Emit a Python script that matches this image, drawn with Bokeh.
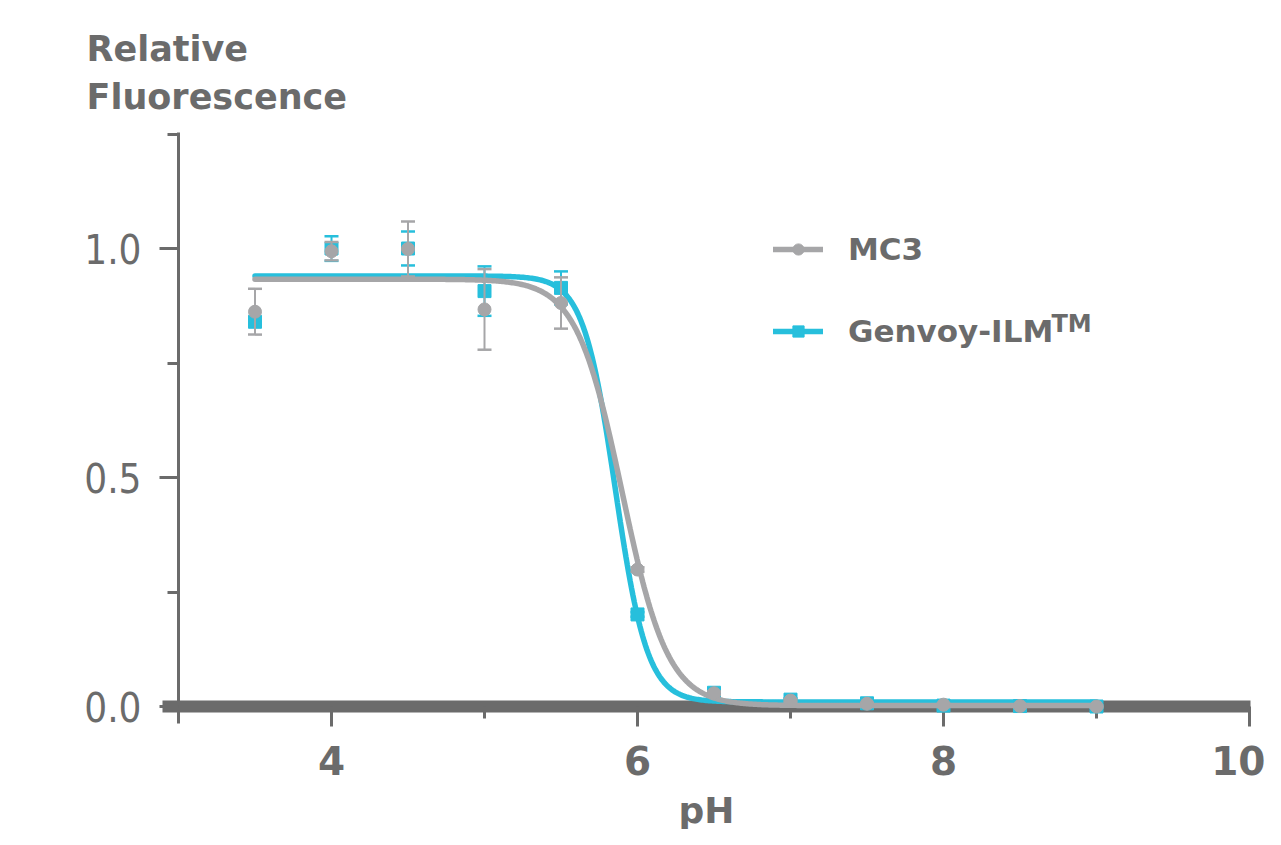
import numpy as np
from bokeh.plotting import figure
from bokeh.models import (Range1d, FixedTicker, Legend, LegendItem, Label,
                          ColumnDataSource, PrintfTickFormatter)
from bokeh.embed import file_html
from bokeh.resources import INLINE

# ---------------- data ----------------
ph = [3.5, 4.0, 4.5, 5.0, 5.5, 6.0, 6.5, 7.0, 7.5, 8.0, 8.5, 9.0]
mc3 = [0.862, 0.994, 0.999, 0.867, 0.881, 0.299, 0.029, 0.013, 0.006, 0.004, 0.001, 0.000]
mc3_err = [0.050, 0.020, 0.060, 0.088, 0.056, 0.005, 0.004, 0.003, 0.002, 0.002, 0.002, 0.002]
genvoy = [0.840, 1.000, 1.000, 0.907, 0.914, 0.201, 0.030, 0.015, 0.007, 0.002, 0.001, 0.000]
genvoy_err = [0.010, 0.027, 0.037, 0.054, 0.036, 0.005, 0.004, 0.003, 0.002, 0.002, 0.002, 0.002]

# fitted sigmoid curves: [top, bottom, pH50, slope]
mc3_fit = [0.933, 0.002, 5.90, 0.150]
genvoy_fit = [0.940, 0.010, 5.855, 0.105]
fit_span = [3.5, 9.0]

series_names = ["MC3", "Genvoy-ILM"]
x_ticks = [4, 6, 8, 10]
x_minor = [5, 7, 9]
x_axis_bounds = [2.8954, 10.0065]
y_ticks = [0.0, 0.5, 1.0]
y_minor = [0.25, 0.75, 1.25]
y_axis_bounds = [-0.0371, 1.2533]

GRAY = "#a6a6a8"
CYAN = "#27bfdc"
TEXT = "#6b6b6b"
AXIS = "#6b6b6b"

W, H = 1265, 829


def sigmoid(x, top, bottom, ph50, slope):
    return bottom + (top - bottom) / (1.0 + np.exp((x - ph50) / slope))


# frame covers the whole canvas; axes are placed with fixed_location + bounds
p = figure(width=W, height=H,
           x_range=Range1d(3 - 178 / 153, 3 + (W - 178) / 153),
           y_range=Range1d(-(H - 706) / 458, 706 / 458),
           output_backend="svg", toolbar_location=None,
           min_border=0, min_border_left=0, min_border_right=0,
           min_border_top=0, min_border_bottom=0)
p.title.visible = False
p.outline_line_color = None
p.xgrid.visible = False
p.ygrid.visible = False
p.background_fill_color = "white"
p.border_fill_color = "white"

# ---------------- axes ----------------
xa = p.xaxis[0]
xa.fixed_location = 0
xa.bounds = tuple(x_axis_bounds)
xa.level = "underlay"
xa.ticker = FixedTicker(ticks=x_ticks, minor_ticks=x_minor)
xa.axis_line_width = 12
xa.axis_line_color = AXIS
xa.major_tick_out = 20
xa.major_tick_in = 0
xa.major_tick_line_width = 3
xa.major_tick_line_color = AXIS
xa.minor_tick_out = 12
xa.minor_tick_in = 0
xa.minor_tick_line_width = 3
xa.minor_tick_line_color = AXIS
xa.major_label_text_font = "DejaVu Sans"
xa.major_label_text_font_style = "bold"
xa.major_label_text_font_size = "39px"
xa.major_label_text_color = TEXT
xa.major_label_standoff = 19
xa.axis_label = "pH"
xa.axis_label_text_font = "DejaVu Sans"
xa.axis_label_text_font_style = "bold"
xa.axis_label_text_font_size = "36px"
xa.axis_label_text_color = TEXT
xa.axis_label_standoff = 12

ya = p.yaxis[0]
ya.fixed_location = 3
ya.bounds = tuple(y_axis_bounds)
ya.ticker = FixedTicker(ticks=y_ticks, minor_ticks=y_minor)
ya.formatter = PrintfTickFormatter(format="%.1f")
ya.axis_line_width = 3
ya.axis_line_color = AXIS
ya.major_tick_out = 19
ya.major_tick_in = 0
ya.major_tick_line_width = 3
ya.major_tick_line_color = AXIS
ya.minor_tick_out = 11
ya.minor_tick_in = 0
ya.minor_tick_line_width = 3
ya.minor_tick_line_color = AXIS
ya.major_label_text_font = "DejaVu Sans Condensed"
ya.major_label_text_font_style = "normal"
ya.major_label_text_font_size = "40px"
ya.major_label_text_color = TEXT
ya.major_label_standoff = 18

# ---------------- series ----------------
xs = np.linspace(fit_span[0], fit_span[1], 600)


def draw_series(values, errs, fit, color, marker, size):
    src = ColumnDataSource(dict(
        x=ph, y=values,
        lo=[v - e for v, e in zip(values, errs)],
        hi=[v + e for v, e in zip(values, errs)]))
    curve = p.line(xs, sigmoid(xs, *fit), line_color=color, line_width=5.5,
                   line_cap="round")
    p.segment(x0="x", y0="lo", x1="x", y1="hi", source=src,
              line_color=color, line_width=2)
    p.scatter(x="x", y="hi", source=src, marker="dash", size=14,
              line_color=color, line_width=2.5)
    p.scatter(x="x", y="lo", source=src, marker="dash", size=14,
              line_color=color, line_width=2.5)
    pts = p.scatter(x="x", y="y", source=src, marker=marker, size=size,
                    fill_color=color, line_color=color)
    return curve, pts


cy_curve, cy_pts = draw_series(genvoy, genvoy_err, genvoy_fit, CYAN, "square", 13)
gr_curve, gr_pts = draw_series(mc3, mc3_err, mc3_fit, GRAY, "circle", 13)

legend = Legend(items=[LegendItem(label=series_names[0], renderers=[gr_curve, gr_pts]),
                       LegendItem(label=series_names[1], renderers=[cy_curve, cy_pts])],
                location=(773, H - 351), orientation="vertical",
                glyph_width=50, glyph_height=28, label_height=40,
                label_standoff=25, spacing=42, padding=0, margin=0,
                border_line_alpha=0, background_fill_alpha=0,
                label_text_font="DejaVu Sans", label_text_font_style="bold",
                label_text_font_size="31px", label_text_color=TEXT)
p.add_layout(legend)

# superscript TM after the second legend label
p.add_layout(Label(x=1051, y=H - 323.5, x_units="screen", y_units="screen", text="TM",
                   text_font="DejaVu Sans", text_font_style="bold",
                   text_font_size="24px", text_color=TEXT,
                   text_baseline="alphabetic"))

# y-axis title (two lines, top-left)
p.add_layout(Label(x=86, y=H - 48, x_units="screen", y_units="screen", text="Relative",
                   text_font="DejaVu Sans", text_font_style="bold",
                   text_font_size="35px", text_color=TEXT,
                   text_baseline="alphabetic"))
p.add_layout(Label(x=86, y=H - 96, x_units="screen", y_units="screen", text="Fluorescence",
                   text_font="DejaVu Sans", text_font_style="bold",
                   text_font_size="35px", text_color=TEXT,
                   text_baseline="alphabetic"))

open("out.html", "w").write(file_html(p, INLINE))
